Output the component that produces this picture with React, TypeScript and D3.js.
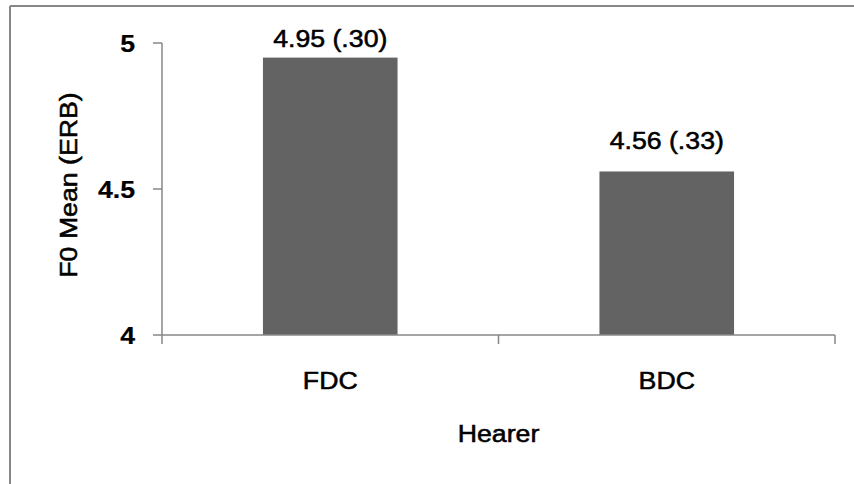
import React from "react";
import * as d3 from "d3";

const categories = ["FDC", "BDC"];
const means = [4.95, 4.56];
const sds = [".30", ".33"];
const yTicks = [4, 4.5, 5];
const yTickLabels = ["4", "4.5", "5"];
const xTitle = "Hearer";
const yTitle = "F0 Mean (ERB)";

const W = 854;
const H = 484;
const plot = { left: 162, right: 835, top: 43, bottom: 335 };
const axisColor = "#878787";
const barColor = "#636363";
const font = "'Liberation Sans', Arial, sans-serif";
const stretch = 1.09;

type LabelProps = {
  x: number;
  y: number;
  anchor?: "start" | "middle" | "end";
  size?: number;
  bold?: boolean;
  rotate?: number;
  dy?: string;
  children: React.ReactNode;
};

// Text widened slightly along its own baseline direction
function Label({ x, y, anchor = "middle", size = 24.5, bold = false, rotate = 0, dy, children }: LabelProps) {
  return (
    <g transform={`translate(${x},${y}) rotate(${rotate})`}>
      <text
        transform={`scale(${stretch},1)`}
        textAnchor={anchor}
        dy={dy}
        fontSize={size}
        fontWeight={bold ? "bold" : "normal"}
        fill="#000"
        stroke="#000"
        strokeWidth={bold ? 0.2 : 0.55}
      >
        {children}
      </text>
    </g>
  );
}

export default function App() {
  const x = d3
    .scaleBand<string>()
    .domain(categories)
    .range([plot.left, plot.right])
    .paddingInner(0.6)
    .paddingOuter(0.3);
  const xOuter = d3.scaleBand<string>().domain(categories).range([plot.left, plot.right]).padding(0);
  const y = d3.scaleLinear().domain([4, 5]).range([plot.bottom, plot.top]);

  const xTickPositions = [plot.left, ...categories.slice(1).map((c) => xOuter(c) as number), plot.right];

  return (
    <svg
      width={W}
      height={H}
      style={{ position: "absolute", left: 0, top: 0, background: "#fff" }}
      fontFamily={font}
    >
      <rect x={0} y={0} width={W} height={H} fill="#fff" />
      {/* chart area frame */}
      <line x1={10} y1={6} x2={W} y2={6} stroke={axisColor} strokeWidth={2} />
      <line x1={10} y1={6} x2={10} y2={H} stroke={axisColor} strokeWidth={2} />

      {/* bars */}
      {categories.map((c, i) => (
        <rect
          key={c}
          x={x(c)}
          y={y(means[i])}
          width={x.bandwidth()}
          height={plot.bottom - y(means[i])}
          fill={barColor}
        />
      ))}

      {/* y axis */}
      <line x1={plot.left} y1={plot.top} x2={plot.left} y2={plot.bottom} stroke={axisColor} strokeWidth={1.5} />
      {yTicks.map((t, i) => (
        <g key={t}>
          <line x1={plot.left - 9} x2={plot.left} y1={y(t)} y2={y(t)} stroke={axisColor} strokeWidth={1.5} />
          <Label x={plot.left - 27} y={y(t)} dy="0.35em" anchor="end" size={24.5} bold>
            {yTickLabels[i]}
          </Label>
        </g>
      ))}

      {/* x axis */}
      <line x1={plot.left} y1={plot.bottom} x2={plot.right} y2={plot.bottom} stroke={axisColor} strokeWidth={1.5} />
      {xTickPositions.map((p, i) => (
        <line key={i} x1={p} x2={p} y1={plot.bottom} y2={plot.bottom + 9} stroke={axisColor} strokeWidth={1.5} />
      ))}
      {categories.map((c) => (
        <Label key={c} x={(xOuter(c) as number) + xOuter.bandwidth() / 2} y={389}>
          {c}
        </Label>
      ))}

      {/* value labels */}
      {categories.map((c, i) => (
        <Label key={c} x={(x(c) as number) + x.bandwidth() / 2} y={Math.max(y(means[i]) - 22, 47)}>
          {`${means[i].toFixed(2)} (${sds[i]})`}
        </Label>
      ))}

      {/* axis titles */}
      <Label x={(plot.left + plot.right) / 2} y={442}>
        {xTitle}
      </Label>
      <Label x={77} y={185} rotate={-90}>
        {yTitle}
      </Label>
    </svg>
  );
}
